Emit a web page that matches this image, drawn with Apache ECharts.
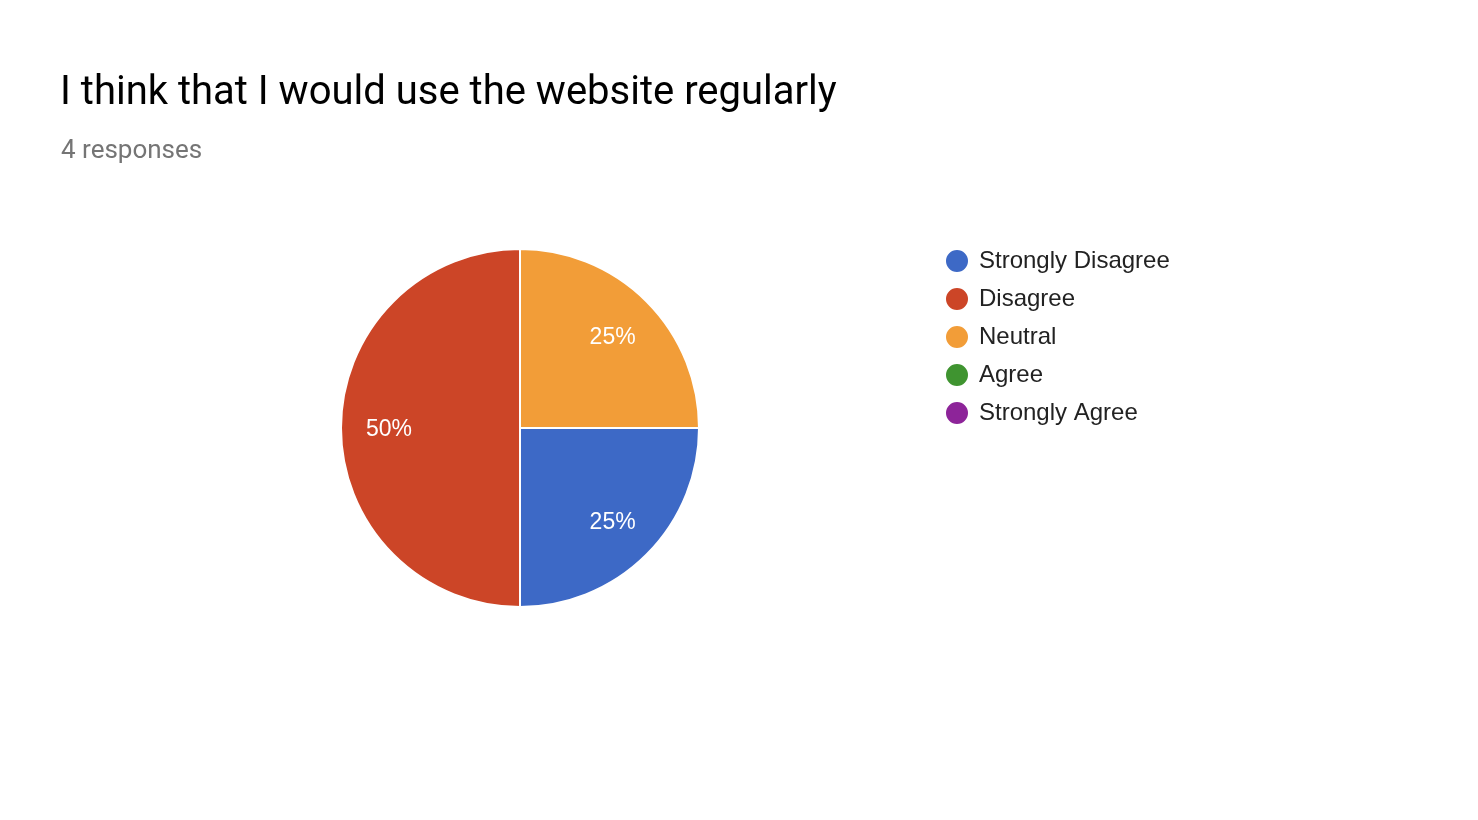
<!DOCTYPE html>
<html>
<head>
<meta charset="utf-8">
<script src="https://cdn.jsdelivr.net/npm/echarts@6/dist/echarts.min.js"></script>
<style>
html,body{margin:0;padding:0;background:#fff;}
#chart{width:1478px;height:820px;}
</style>
</head>
<body>
<div id="chart"></div>
<script>
const titleText = 'I think that I would use the website regularly';
const subtitleText = '4 responses';
const categories = ['Strongly Disagree', 'Disagree', 'Neutral', 'Agree', 'Strongly Agree'];
const counts = [1, 2, 1, 0, 0];
const colors = ['#3d69c6', '#cc4527', '#f29d38', '#3f9430', '#8d2499'];

const seriesData = categories.map((name, i) => ({ name: name, value: counts[i] }));

const chart = echarts.init(document.getElementById('chart'));
chart.setOption({
  animation: false,
  color: colors,
  title: [
    {
      text: titleText, left: 60, top: 74, padding: 0,
      textStyle: { fontFamily: 'Roboto', fontSize: 40, fontWeight: 'normal', color: '#000000' }
    },
    {
      text: subtitleText, left: 61, top: 138, padding: 0,
      textStyle: { fontFamily: 'Roboto', fontSize: 26, fontWeight: 'normal', color: '#757575' }
    }
  ],
  legend: {
    orient: 'vertical',
    left: 944,
    top: 248,
    padding: 0,
    icon: 'circle',
    itemWidth: 24,
    itemHeight: 24,
    itemGap: 12,
    data: categories,
    textStyle: { fontFamily: 'Liberation Sans', fontSize: 24, color: '#222222', padding: [0, 0, 0, 5] }
  },
  series: [
    {
      type: 'pie',
      center: [520, 428],
      radius: [0, 179],
      startAngle: 0,
      clockwise: true,
      data: seriesData,
      itemStyle: { borderColor: '#ffffff', borderWidth: 2 },
      label: { show: false },
      labelLine: { show: false },
      emphasis: { disabled: true }
    },
    {
      type: 'pie',
      silent: true,
      center: [520, 430],
      radius: [77, 179],
      startAngle: 0,
      clockwise: true,
      data: seriesData,
      minShowLabelAngle: 1,
      itemStyle: { color: 'rgba(0,0,0,0)', borderWidth: 0 },
      label: {
        show: true,
        position: 'inside',
        fontFamily: 'Liberation Sans',
        fontSize: 23,
        color: '#ffffff',
        formatter: p => p.value > 0 ? Math.round(p.percent) + '%' : ''
      },
      labelLine: { show: false },
      emphasis: { disabled: true }
    }
  ]
});
</script>
</body>
</html>
